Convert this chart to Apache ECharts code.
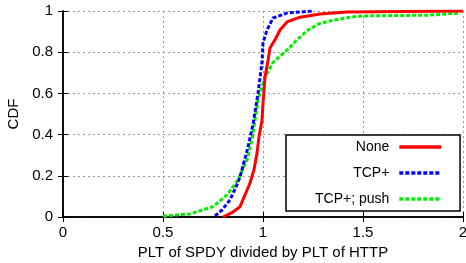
<!DOCTYPE html>
<html lang="en">
<head>
    <meta charset="UTF-8">
    <title>SPDY vs HTTP PLT CDF</title>
    <script src="https://cdn.jsdelivr.net/npm/echarts@6/dist/echarts.min.js"></script>
    <style>
        html, body { margin: 0; padding: 0; background: #fff; }
        #chart { width: 466px; height: 263px; }
    </style>
</head>
<body>
    <div id="chart"></div>
    <script>
        // CDF curves: [ratio, cdf]
        const noneData = [
            [0.80, 0], [0.85, 0.024], [0.885, 0.05], [0.91, 0.107], [0.935, 0.165],
            [0.955, 0.23], [0.97, 0.31], [0.98, 0.39], [0.995, 0.47], [1.0, 0.55],
            [1.01, 0.68], [1.025, 0.76], [1.035, 0.82], [1.06, 0.86], [1.085, 0.908],
            [1.12, 0.947], [1.185, 0.97], [1.285, 0.985], [1.42, 0.995], [1.7, 0.998], [2.0, 1.0]
        ];
        const tcpData = [
            [0.76, 0.005], [0.795, 0.034], [0.835, 0.083], [0.865, 0.146], [0.885, 0.194],
            [0.905, 0.267], [0.925, 0.34], [0.95, 0.45], [0.975, 0.6], [0.995, 0.75],
            [1.0, 0.845], [1.02, 0.908], [1.05, 0.966], [1.12, 0.99], [1.25, 1.0]
        ];
        const pushData = [
            [0.5, 0.005], [0.635, 0.015], [0.75, 0.05], [0.82, 0.107], [0.875, 0.18],
            [0.92, 0.277], [0.945, 0.374], [0.96, 0.47], [0.975, 0.568], [1.01, 0.68],
            [1.05, 0.75], [1.12, 0.81], [1.17, 0.86], [1.225, 0.908], [1.285, 0.94],
            [1.35, 0.955], [1.435, 0.97], [1.5, 0.976], [1.835, 0.98], [1.985, 0.99]
        ];
        const seriesNames = ['None', 'TCP+', 'TCP+; push'];

        const chart = echarts.init(document.getElementById('chart'));
        const font = 'Liberation Sans, Arial, sans-serif';
        const gridLine = { show: true, lineStyle: { color: '#999', type: [2, 3], width: 1 } };
        const frame = { show: true, lineStyle: { color: '#000', width: 1.5 } };
        const ticks = { show: true, inside: true, length: 5, lineStyle: { color: '#000' } };

        chart.setOption({
            animation: false,
            textStyle: { fontFamily: font },
            grid: { left: 63, right: 3, top: 11, bottom: 46, containLabel: false, outerBoundsMode: 'none' },
            legend: {
                data: seriesNames,
                orient: 'vertical',
                left: 286,
                top: 135,
                align: 'right',
                itemWidth: 42,
                itemHeight: 14,
                itemGap: 12,
                padding: [5, 17, 5, 29],
                backgroundColor: '#fff',
                borderColor: '#000',
                borderWidth: 1.5,
                borderRadius: 0,
                itemStyle: { opacity: 0 },
                lineStyle: { width: 3.5 },
                textStyle: { fontSize: 14, color: '#000', align: 'right', padding: [0, 5, 0, 0], fontFamily: font }
            },
            xAxis: [{
                type: 'value', min: 0, max: 2, interval: 0.5,
                name: 'PLT of SPDY divided by PLT of HTTP',
                nameLocation: 'middle', nameGap: 28,
                nameTextStyle: { fontSize: 15, color: '#000' },
                axisLine: frame,
                axisTick: ticks,
                axisLabel: { fontSize: 15, color: '#000', margin: 8, formatter: v => String(v) },
                splitLine: gridLine
            }, {
                type: 'value', min: 0, max: 2, interval: 0.5, position: 'top',
                axisLine: frame,
                axisTick: ticks,
                axisLabel: { show: false },
                splitLine: { show: false }
            }],
            yAxis: [{
                type: 'value', min: 0, max: 1, interval: 0.2,
                name: 'CDF',
                nameLocation: 'middle', nameGap: 38, nameRotate: 90,
                nameTextStyle: { fontSize: 15, color: '#000' },
                axisLine: frame,
                axisTick: ticks,
                axisLabel: { fontSize: 15, color: '#000', margin: 10, formatter: v => String(Math.round(v * 10) / 10) },
                splitLine: gridLine
            }, {
                type: 'value', min: 0, max: 1, interval: 0.2, position: 'right',
                axisLine: frame,
                axisTick: ticks,
                axisLabel: { show: false },
                splitLine: { show: false }
            }],
            series: [{
                name: seriesNames[0], type: 'line', data: noneData, symbol: 'none',
                color: '#ff0000', lineStyle: { color: '#ff0000', width: 3 }, z: 3
            }, {
                name: seriesNames[1], type: 'line', data: tcpData, symbol: 'none',
                color: '#0000ff', lineStyle: { color: '#0000ff', width: 3, type: [4, 2] }, z: 2
            }, {
                name: seriesNames[2], type: 'line', data: pushData, symbol: 'none',
                color: '#00ee00', lineStyle: { color: '#00ee00', width: 3, type: [4, 2] }, z: 1
            }]
        });
    </script>
</body>
</html>
